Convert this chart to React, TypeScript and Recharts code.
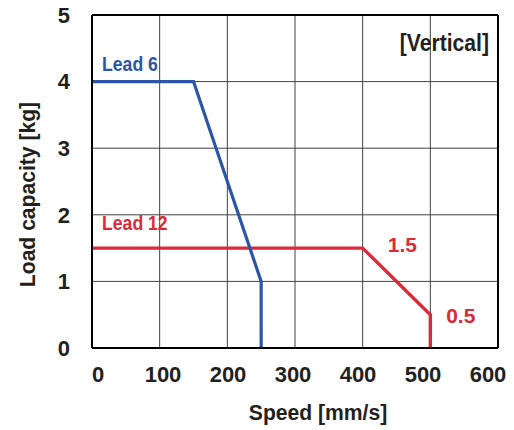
import {
  LineChart,
  Line,
  XAxis,
  YAxis,
  CartesianGrid,
  ReferenceLine,
  ReferenceDot,
  Label,
} from "recharts";

const speedTicks = [0, 100, 200, 300, 400, 500, 600];
const loadTicks = [0, 1, 2, 3, 4, 5];

const lead6Speed = [0, 150, 250, 250];
const lead6Load = [4, 4, 1, 0];

const lead12Speed = [0, 400, 500, 500];
const lead12Load = [1.5, 1.5, 0.5, 0];

const BLUE = "#2b55a6";
const RED = "#dc2a3b";
const INK = "#231f20";
const FONT = "'Liberation Sans', Arial, sans-serif";

const lead6 = lead6Speed.map((s, i) => ({ speed: s, load: lead6Load[i] }));
const lead12 = lead12Speed.map((s, i) => ({ speed: s, load: lead12Load[i] }));

// annotations placed at data coordinates
const notes = [
  { x: 14.8, y: 4.28, text: "Lead 6", color: BLUE, anchor: "start", size: 21, sx: 0.84 },
  { x: 14.8, y: 1.89, text: "Lead 12", color: RED, anchor: "start", size: 21, sx: 0.84 },
  { x: 458.8, y: 1.55, text: "1.5", color: RED, anchor: "middle", size: 21, sx: 1 },
  { x: 545, y: 0.49, text: "0.5", color: RED, anchor: "middle", size: 21, sx: 1 },
  { x: 586.7, y: 4.59, text: "[Vertical]", color: INK, anchor: "end", size: 23, sx: 0.92 },
];

function CondText({ x, y, text, color, anchor, size, sx, rotate = 0 }: any) {
  return (
    <text
      transform={`translate(${x},${y}) rotate(${rotate}) scale(${sx},1)`}
      dy="0.36em"
      textAnchor={anchor}
      fill={color}
      fontSize={size}
      fontWeight={700}
      fontFamily={FONT}
    >
      {text}
    </text>
  );
}

// the printed x labels sit slightly tighter than the grid
function SpeedTick({ x, y, payload }: any) {
  const shift = 6 - (payload.value * 16) / 600;
  return (
    <text
      x={x + shift}
      y={y}
      dy="0.71em"
      textAnchor="middle"
      fill={INK}
      fontSize={22}
      fontWeight={700}
      fontFamily={FONT}
    >
      {payload.value}
    </text>
  );
}

const tickStyle = { fill: INK, fontSize: 22, fontWeight: 700, fontFamily: FONT };

export default function App() {
  return (
    <div style={{ position: "absolute", left: 0, top: 0, background: "#fff" }}>
      <LineChart
        width={514}
        height={430}
        margin={{ top: 15, right: 16, bottom: 0, left: 0 }}
      >
        <CartesianGrid stroke="#404040" strokeWidth={1} />
        <XAxis
          type="number"
          dataKey="speed"
          domain={[0, 600]}
          ticks={speedTicks}
          tickSize={0}
          tickMargin={18}
          axisLine={{ stroke: "#000", strokeWidth: 2 }}
          tick={<SpeedTick />}
          height={82}
        >
          <Label
            content={({ viewBox }: any) => (
              <CondText
                x={viewBox.x + viewBox.width / 2 + 23}
                y={viewBox.y + 64}
                text="Speed [mm/s]"
                color={INK}
                anchor="middle"
                size={22}
                sx={0.96}
              />
            )}
          />
        </XAxis>
        <YAxis
          type="number"
          dataKey="load"
          domain={[0, 5]}
          ticks={loadTicks}
          tickSize={0}
          tickMargin={22}
          axisLine={{ stroke: "#000", strokeWidth: 2 }}
          tick={tickStyle}
          width={92}
        >
          <Label
            content={({ viewBox }: any) => (
              <CondText
                x={viewBox.x + 27}
                y={viewBox.y + viewBox.height / 2 + 13}
                text="Load capacity [kg]"
                color={INK}
                anchor="middle"
                size={22}
                sx={0.96}
                rotate={-90}
              />
            )}
          />
        </YAxis>
        <ReferenceLine y={5} stroke="#000" strokeWidth={2} />
        <ReferenceLine x={600} stroke="#000" strokeWidth={2} />
        <Line
          data={lead12}
          dataKey="load"
          stroke={RED}
          strokeWidth={3.4}
          dot={false}
          type="linear"
          isAnimationActive={false}
        />
        <Line
          data={lead6}
          dataKey="load"
          stroke={BLUE}
          strokeWidth={3.2}
          dot={false}
          type="linear"
          isAnimationActive={false}
        />
        {notes.map((n) => (
          <ReferenceDot
            key={n.text}
            x={n.x}
            y={n.y}
            r={0}
            ifOverflow="visible"
            shape={(p: any) => (
              <CondText
                x={p.cx}
                y={p.cy}
                text={n.text}
                color={n.color}
                anchor={n.anchor}
                size={n.size}
                sx={n.sx}
              />
            )}
          />
        ))}
      </LineChart>
    </div>
  );
}
